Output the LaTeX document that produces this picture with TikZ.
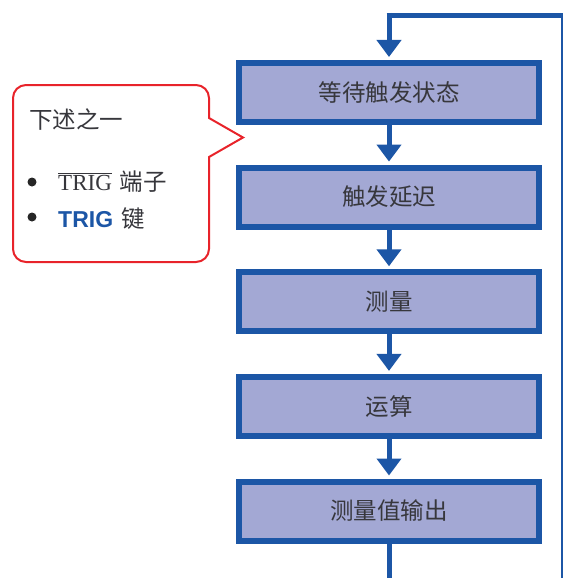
\documentclass[tikz,border=0pt]{standalone}
\usepackage{fontspec}
\setmainfont{Liberation Serif}
\newfontfamily\cjk{Noto Sans CJK SC}
\newfontfamily\arialf{Liberation Sans}
\usetikzlibrary{arrows.meta}
\definecolor{flowblue}{RGB}{28,86,166}
\definecolor{boxfill}{RGB}{163,168,212}
\definecolor{callred}{RGB}{232,35,42}
\definecolor{txtgray}{RGB}{55,55,60}
\newcommand{\cjkbig}{\cjk\fontsize{23.5}{27}\selectfont}
\begin{document}
\begin{tikzpicture}[x=1pt,y=-1pt,
  stepbox/.style={draw=flowblue, line width=6pt, fill=boxfill, minimum width=300pt,
    minimum height=59pt, inner sep=0pt, font=\cjkbig, text=txtgray},
  flow/.style={draw=flowblue, line width=5pt, -{Triangle[length=17pt,width=24pt]}, shorten >=3pt},
  plainline/.style={draw=flowblue, line width=5pt},
  lbl/.style={inner sep=0pt, text=txtgray, font=\fontsize{23}{27}\selectfont},
  bulletdot/.style={circle, fill=black!85, inner sep=0pt, minimum size=9pt}]
\useasboundingbox (0,0) rectangle (563,578);

% flow boxes
\node[stepbox] (b1) at (389,92.5) {等待触发状态};
\node[stepbox] (b2) at (389,197.1) {触发延迟};
\node[stepbox] (b3) at (389,301.8) {测量};
\node[stepbox] (b4) at (389,406.4) {运算};
\node[stepbox] (b5) at (389,511) {测量值输出};

% loop
\coordinate (loopL) at (386.5,15.5);
\coordinate (loopR) at (563,15.5);
\coordinate (rightTop) at (562,15.5);
\coordinate (rightBot) at (562,578);
\coordinate (top) at (389,13);
\coordinate (bot) at (389,578);
\draw[plainline] (loopL) -- (loopR);
\draw[flowblue, line width=2pt] (rightTop) -- (rightBot);
\draw[flow] (top) -- (b1.north);
\draw[flow] (b1.south) -- (b2.north);
\draw[flow] (b2.south) -- (b3.north);
\draw[flow] (b3.south) -- (b4.north);
\draw[flow] (b4.south) -- (b5.north);
\draw[plainline] (b5.south) -- (bot);

% callout
\draw[callred, line width=2pt, line join=miter]
  (209,118) [rounded corners=13pt] -- (209,85) -- (13,85) -- (13,262) -- (209,262)
  [sharp corners] -- (209,157) -- (243,137.5) -- cycle;

\node[lbl, anchor=west, font=\cjkbig] (t0) at (29,119) {下述之一};
\node[bulletdot] (d1) at (32,182) {};
\node[bulletdot] (d2) at (32,217) {};
\node[lbl, anchor=base west] (t1) at (58,190)
  {$\overline{\hbox{\fontsize{23}{27}\selectfont TRIG}}$\hspace{0.35em}{\cjkbig 端子}};
\node[lbl, anchor=base west] (t2) at (58,227)
  {{\arialf\bfseries\color{flowblue}TRIG}\hspace{0.35em}{\cjkbig 键}};
\end{tikzpicture}
\end{document}
